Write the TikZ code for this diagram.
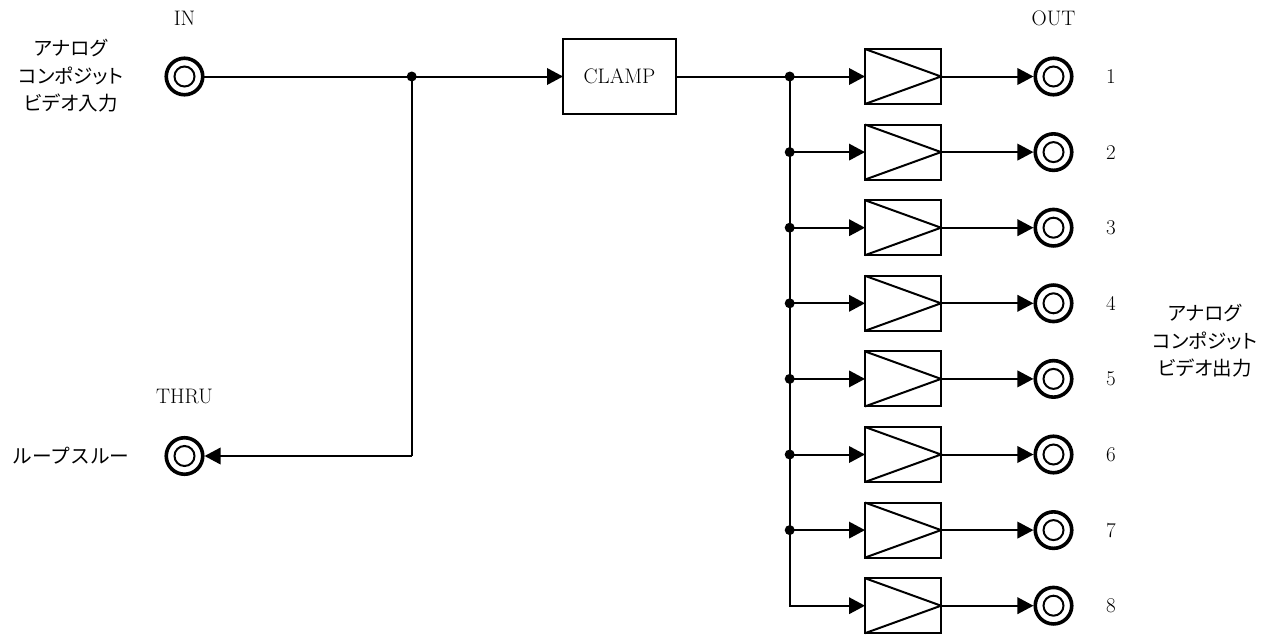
\documentclass[tikz,border=0pt]{standalone}
\usepackage{fontspec}
\newfontfamily\cjk{Noto Sans CJK JP}[RawFeature=+palt]
\newfontfamily\cjkfull{Noto Sans CJK JP}
\usetikzlibrary{arrows.meta,calc}
\tikzset{
  wire/.style={line width=2pt},
  arrowwire/.style={wire,-{Triangle[length=16pt,width=16.5pt]}},
  tojack/.style={arrowwire,shorten >=1.8pt},
  jackouter/.style={circle,draw,line width=3.6pt,minimum size=36.5pt,inner sep=0pt,outer sep=0pt},
  jackinner/.style={circle,draw,line width=2pt,minimum size=20pt,inner sep=0pt},
  ampbox/.style={rectangle,draw,line width=2pt,minimum width=76pt,minimum height=55pt,inner sep=0pt,outer sep=0pt},
  clampbox/.style={rectangle,draw,line width=2pt,minimum width=113pt,minimum height=75pt,inner sep=0pt,outer sep=0pt,font=\fontsize{21}{21}\selectfont},
  dot/.style={circle,fill,minimum size=10pt,inner sep=0pt},
  latinlabel/.style={font=\fontsize{21}{21}\selectfont,inner sep=0pt},
  cjklabel/.style={font=\cjk\fontsize{19.5}{27.5}\selectfont,align=center,inner sep=0pt},
  cjkline/.style={font=\cjkfull\fontsize{19.7}{19.7}\selectfont,inner sep=0pt}
}
\begin{document}
\begin{tikzpicture}[x=1pt,y=-1pt]
\useasboundingbox (0,0) rectangle (1275,637);
% input / thru jacks
\node[jackouter] (injack) at (184.5,76.5) {};
\node[jackinner] (ininner) at (184.5,76.5) {};
\node[jackouter] (thrujack) at (184.5,456) {};
\node[jackinner] (thruinner) at (184.5,456) {};
\node[clampbox] (clamp) at (619.5,76.5) {CLAMP};
\node[dot] (split) at (411.7,76.5) {};
\coordinate (corner) at (411.7,456);
\draw[wire] (injack.east) -- (split.center);
\draw[arrowwire] (split.center) -- (clamp.west |- split.center);
\draw[wire] (split.center) -- (corner);
\draw[tojack] (corner) -- (thrujack.east);
% labels
\node[latinlabel] (inlabel) at (184.5,18.5) {IN};
\node[latinlabel] (thrulabel) at (184.5,396) {THRU};
\node[latinlabel] (outlabel) at (1053.5,18.5) {OUT};
\node[cjklabel] (inname) at (71,76) {アナログ\\コンポジット\\ビデオ入力};
\node[cjkline] (thruname) at (71,456) {ループスルー};
\node[cjklabel] (outname) at (1205,341) {アナログ\\コンポジット\\ビデオ出力};
% output channels
\coordinate (busTop) at (789.7,76.5);
\foreach \i in {1,...,8} {
  \pgfmathsetmacro{\yy}{76.5+(\i-1)*75.6}
  \node[ampbox] (amp\i) at (903,\yy) {};
  \node[jackouter] (jack\i) at (1053.5,\yy) {};
  \node[jackinner] (jackin\i) at (1053.5,\yy) {};
  \node[latinlabel] (num\i) at (1111,\yy) {\i};
  \draw[wire] (amp\i.north west) -- (amp\i.east) -- (amp\i.south west);
  \draw[tojack] (amp\i.east) -- (jack\i.west);
  \coordinate (bus\i) at (789.7,\yy);
}
\draw[wire] (clamp.east |- busTop) -- (busTop);
\draw[wire,line join=miter] (busTop) -- (bus8) -- +(0.1,0);
\foreach \i in {1,...,7} { \node[dot] (tap\i) at (bus\i) {}; }
\foreach \i in {1,...,8} { \draw[arrowwire] (bus\i) -- (amp\i.west); }
\end{tikzpicture}
\end{document}
